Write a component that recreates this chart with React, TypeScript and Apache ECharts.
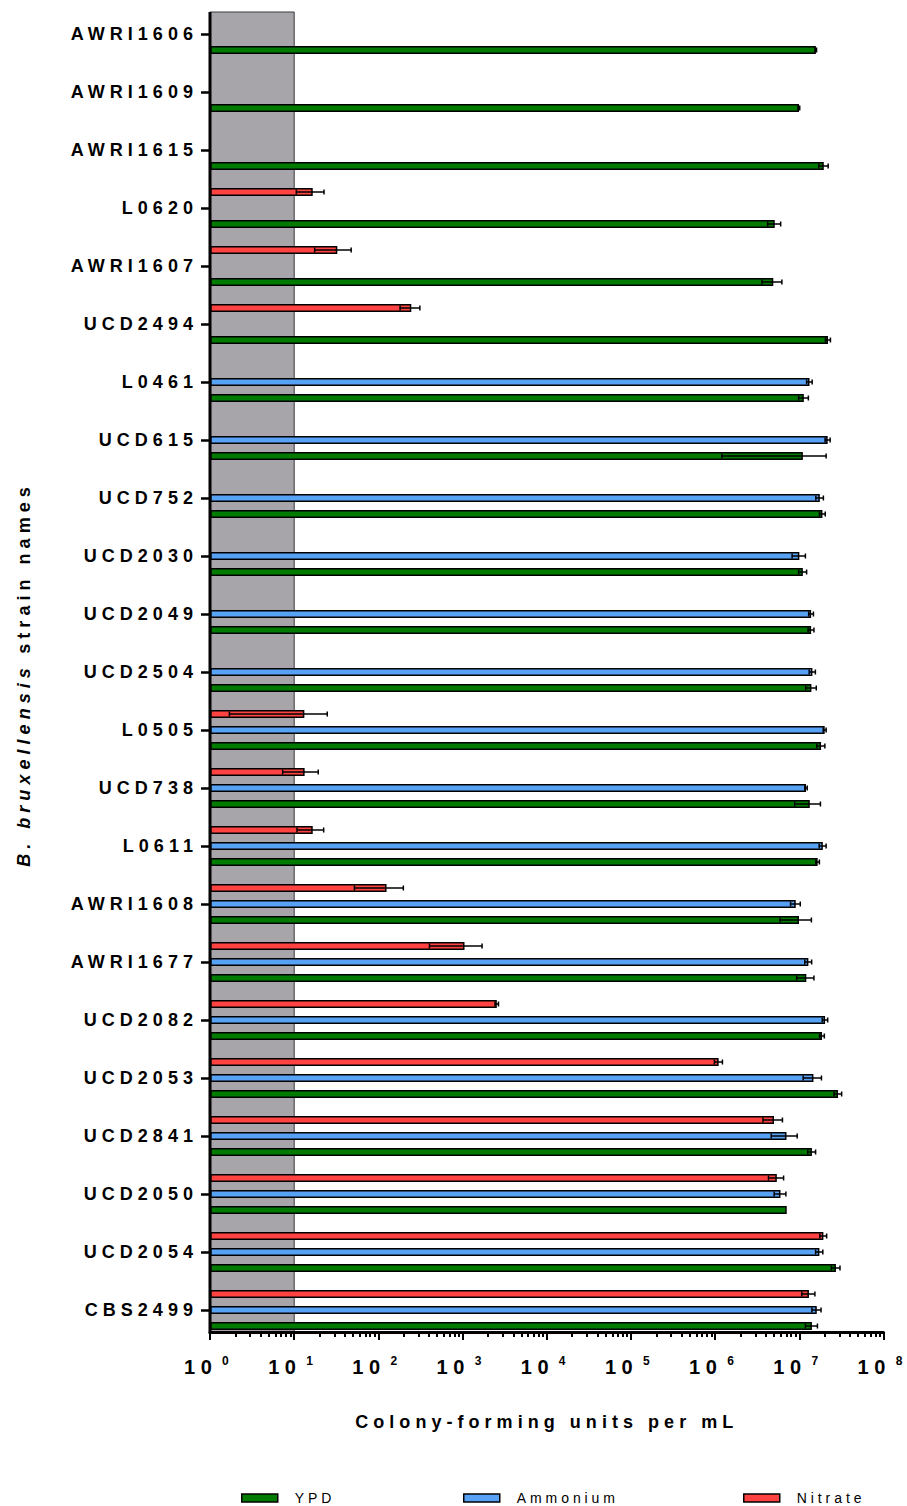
import React, { useEffect, useRef } from 'react';
import * as echarts from 'echarts';

// Strains, top to bottom
const STRAINS = [
  'AWRI1606', 'AWRI1609', 'AWRI1615', 'L0620', 'AWRI1607', 'UCD2494', 'L0461', 'UCD615',
  'UCD752', 'UCD2030', 'UCD2049', 'UCD2504', 'L0505', 'UCD738', 'L0611', 'AWRI1608',
  'AWRI1677', 'UCD2082', 'UCD2053', 'UCD2841', 'UCD2050', 'UCD2054', 'CBS2499',
];

// Mean CFU/mL and standard deviation per medium (null = not grown / not measured)
const YPD_MEAN = [
  1.57e7, 9.9e6, 1.95e7, 5.1e6, 4.9e6, 2.19e7, 1.13e7, 1.1e7,
  1.88e7, 1.1e7, 1.38e7, 1.39e7, 1.81e7, 1.33e7, 1.65e7, 9.9e6,
  1.21e7, 1.86e7, 2.88e7, 1.41e7, 7.08e6, 2.72e7, 1.41e7,
];
const YPD_SD = [
  0.03e7, 0.02e7, 0.25e7, 0.9e6, 1.3e6, 0.15e7, 0.15e7, 0.98e7,
  0.15e7, 0.12e7, 0.11e7, 0.2e7, 0.2e7, 0.45e7, 0.08e7, 0.4e7,
  0.28e7, 0.12e7, 0.3e7, 0.15e7, null, 0.32e7, 0.23e7,
];
const AMMONIUM_MEAN = [
  null, null, null, null, null, null, 1.32e7, 2.17e7,
  1.75e7, 1.0e7, 1.38e7, 1.43e7, 2.0e7, 1.2e7, 1.9e7, 9.06e6,
  1.28e7, 2.02e7, 1.47e7, 7.03e6, 5.97e6, 1.73e7, 1.61e7,
];
const AMMONIUM_SD = [
  null, null, null, null, null, null, 0.1e7, 0.15e7,
  0.18e7, 0.18e7, 0.09e7, 0.12e7, 0.08e7, 0.04e7, 0.18e7, 0.12e7,
  0.12e7, 0.15e7, 0.36e7, 2.4e6, 0.95e6, 0.17e7, 0.2e7,
];
const NITRATE_MEAN = [
  null, null, null, 16.6, 32.5, 246, null, null,
  null, null, null, null, 13.2, 13.3, 16.6, 125,
  1054, 2550, 1.1e6, 5.0e6, 5.4e6, 1.93e7, 1.3e7,
];
const NITRATE_SD = [
  null, null, null, 6, 15, 65, null, null,
  null, null, null, null, 11.5, 6, 5.8, 73,
  650, 120, 0.12e6, 1.3e6, 1.1e6, 0.18e7, 0.23e7,
];

// Axis decades (10^0 .. 10^8) and the shaded detection-limit band
const DECADES = [1, 10, 100, 1e3, 1e4, 1e5, 1e6, 1e7, 1e8];
const SHADE_RANGE = [1, 10];
const MINOR_TICKS: number[] = [];
DECADES.slice(0, -1).forEach((d) => {
  for (let m = 2; m <= 9; m++) MINOR_TICKS.push(m * d);
});

const X_TITLE = 'Colony-forming units per mL';
const LEGEND_NAMES = ['YPD', 'Ammonium', 'Nitrate'];

// Layout / style
const FONT = "'Liberation Sans', Arial, Helvetica, sans-serif";
const GRID_LEFT = 210;
const GRID_RIGHT = 22;
const GRID_TOP = 5;
const GRID_HEIGHT = 1334;
const AXIS_INSET = 7;
const BAR_W = 8;
const BAR_PITCH = 16;
const CAP = 2.5;
const COLORS = { YPD: '#007B00', Ammonium: '#58A2F5', Nitrate: '#FF4343' };
const SHADE_FILL = '#A7A5AA';
const LEGEND_LEFT = [236, 458, 738];

type Num = number | null;

function barSeries(name: string, means: Num[]) {
  return {
    type: 'bar',
    name,
    data: means.map((v) => (v == null ? '-' : v)),
    barWidth: BAR_W,
    barGap: '100%',
    itemStyle: { color: (COLORS as any)[name], borderColor: '#000', borderWidth: 1.5 },
    z: 2,
  };
}

function errorSeries(name: string, means: Num[], sds: Num[], slot: number) {
  const data = means
    .map((m, i) => (m != null && sds[i] != null ? [m, i, sds[i]] : null))
    .filter((d) => d != null);
  return {
    type: 'custom',
    name: name + ' SD',
    silent: true,
    z: 4,
    clip: false,
    encode: { x: 0, y: 1 },
    data,
    renderItem: (_params: any, api: any) => {
      const m = api.value(0);
      const i = api.value(1);
      const sd = api.value(2);
      const lo = api.coord([m - sd, i]);
      const hi = api.coord([m + sd, i]);
      const y = lo[1] + (slot - 1) * BAR_PITCH;
      const st = { stroke: '#000', lineWidth: 1.5 };
      return {
        type: 'group',
        children: [
          { type: 'line', shape: { x1: lo[0], y1: y, x2: hi[0], y2: y }, style: st },
          { type: 'line', shape: { x1: lo[0], y1: y - CAP, x2: lo[0], y2: y + CAP }, style: st },
          { type: 'line', shape: { x1: hi[0], y1: y - CAP, x2: hi[0], y2: y + CAP }, style: st },
        ],
      };
    },
  };
}

export default function App() {
  const ref = useRef<HTMLDivElement>(null);

  useEffect(() => {
    const chart = echarts.init(ref.current!, null, { renderer: 'svg' });

    const option: any = {
      animation: false,
      textStyle: { fontFamily: FONT },
      grid: { left: GRID_LEFT, right: GRID_RIGHT, top: GRID_TOP, height: GRID_HEIGHT },
      legend: LEGEND_NAMES.map((n, k) => ({
        data: [n],
        left: LEGEND_LEFT[k],
        top: 1486,
        itemWidth: 36,
        itemHeight: 8,
        icon: 'rect',
        selectedMode: false,
        itemStyle: { borderColor: '#000', borderWidth: 1.5 },
        textStyle: { fontFamily: FONT, fontSize: 14, color: '#000', padding: [0, 0, 0, 12] },
      })),
      xAxis: [
        {
          type: 'log',
          logBase: 10,
          min: 1,
          max: 1e8,
          position: 'bottom',
          offset: -AXIS_INSET,
          axisLine: { show: true, onZero: false, lineStyle: { color: '#000', width: 3 } },
          axisTick: { show: true, length: 8, customValues: DECADES, lineStyle: { color: '#000', width: 2 } },
          axisLabel: {
            customValues: DECADES,
            margin: 23,
            formatter: (v: number) => `{a|10}{b|${Math.round(Math.log10(v))}}`,
            rich: {
              a: { fontFamily: FONT, fontSize: 20, fontWeight: 'bold', color: '#000', lineHeight: 24 },
              b: {
                fontFamily: FONT, fontSize: 12, fontWeight: 'bold', color: '#000',
                lineHeight: 10, verticalAlign: 'top', padding: [0, 0, 0, 12],
              },
            },
          },
          splitLine: { show: false },
          name: X_TITLE,
          nameLocation: 'middle',
          nameGap: 81,
          nameTextStyle: { fontFamily: FONT, fontSize: 18, fontWeight: 'bold', color: '#000' },
        },
        {
          type: 'log',
          logBase: 10,
          min: 1,
          max: 1e8,
          position: 'bottom',
          offset: -AXIS_INSET,
          axisLine: { show: false },
          axisTick: { show: true, length: 5, customValues: MINOR_TICKS, lineStyle: { color: '#000', width: 2 } },
          axisLabel: { show: false },
          splitLine: { show: false },
        },
      ],
      yAxis: {
        type: 'category',
        data: STRAINS,
        inverse: true,
        axisLine: { show: false, onZero: false },
        axisTick: { show: true, alignWithLabel: true, interval: 0, length: 9, lineStyle: { color: '#000', width: 2.5 } },
        axisLabel: {
          interval: 0,
          margin: 12,
          fontFamily: FONT,
          fontSize: 18,
          fontWeight: 'bold',
          color: '#000',
          padding: [5, 0, 0, 0],
        },
        name: '{i|B. bruxellensis}{n| strain names}',
        nameLocation: 'middle',
        nameRotate: 90,
        nameGap: 177,
        nameTextStyle: {
          rich: {
            i: { fontFamily: FONT, fontSize: 18, fontWeight: 'bold', fontStyle: 'italic', color: '#000' },
            n: { fontFamily: FONT, fontSize: 18, fontWeight: 'bold', color: '#000', padding: [0, 0, 0, 70] },
          },
        },
      },
      series: [
        barSeries('Nitrate', NITRATE_MEAN),
        barSeries('Ammonium', AMMONIUM_MEAN),
        barSeries('YPD', YPD_MEAN),
        errorSeries('Nitrate', NITRATE_MEAN, NITRATE_SD, 0),
        errorSeries('Ammonium', AMMONIUM_MEAN, AMMONIUM_SD, 1),
        errorSeries('YPD', YPD_MEAN, YPD_SD, 2),
      ],
    };

    chart.setOption(option);

    // Shaded band below 10^1 and the left axis line, placed through the x scale
    const x0 = chart.convertToPixel({ xAxisIndex: 0 }, SHADE_RANGE[0]) as number;
    const x1 = chart.convertToPixel({ xAxisIndex: 0 }, SHADE_RANGE[1]) as number;
    const yTop = GRID_TOP + AXIS_INSET;
    const yBot = GRID_TOP + GRID_HEIGHT - AXIS_INSET;
    chart.setOption({
      graphic: [
        {
          type: 'rect',
          silent: true,
          z: -1,
          shape: { x: x0, y: yTop, width: x1 - x0, height: yBot - yTop },
          style: { fill: SHADE_FILL, stroke: '#3a3a3a', lineWidth: 1 },
        },
        {
          type: 'line',
          silent: true,
          z: 10,
          shape: { x1: x0, y1: yTop, x2: x0, y2: yBot + 1.5 },
          style: { stroke: '#000', lineWidth: 3 },
        },
      ],
    });

    return () => chart.dispose();
  }, []);

  return (
    <>
      <style>{`.cfu-chart text { letter-spacing: 0.28em; }`}</style>
      <div
        ref={ref}
        className="cfu-chart"
        style={{ position: 'absolute', left: 0, top: 0, width: 907, height: 1506 }}
      />
    </>
  );
}
